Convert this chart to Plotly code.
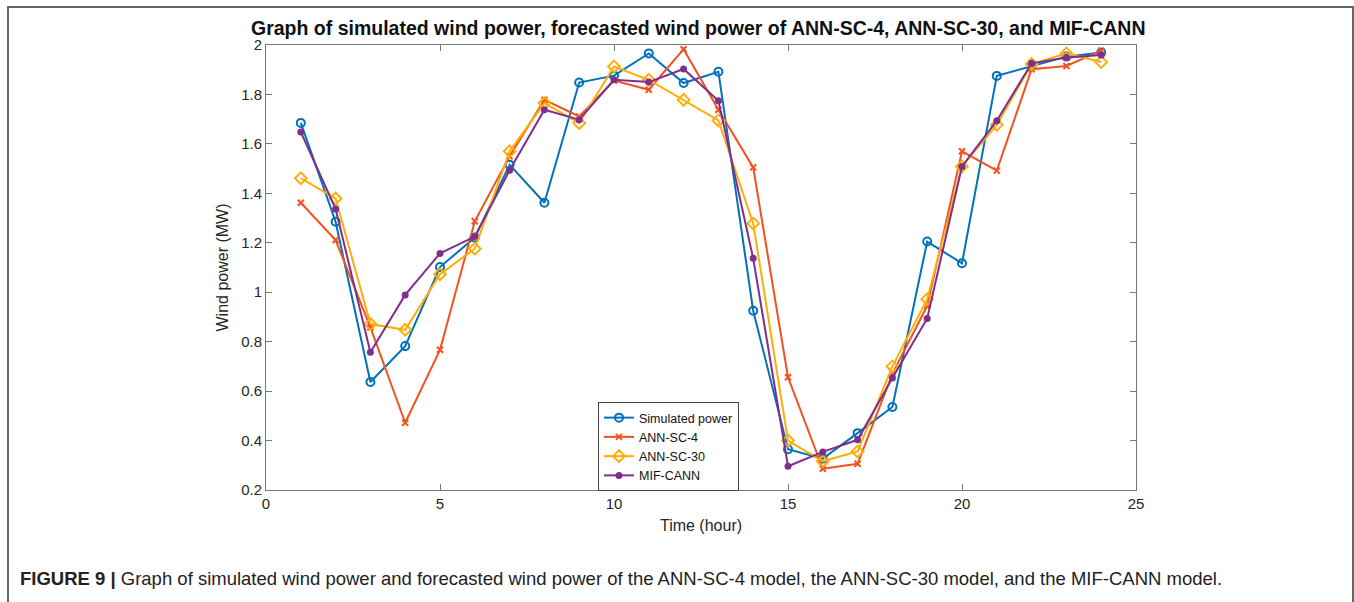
import plotly.graph_objects as go

hours = list(range(1, 25))
simulated = [1.685, 1.285, 0.637, 0.782, 1.102, 1.221, 1.516, 1.362, 1.848, 1.876, 1.966, 1.846,
             1.892, 0.925, 0.365, 0.327, 0.430, 0.536, 1.205, 1.117, 1.875, 1.915, 1.953, 1.970]
ann_sc_4 = [1.362, 1.211, 0.858, 0.472, 0.767, 1.287, 1.550, 1.778, 1.711, 1.856, 1.819, 1.983,
            1.738, 1.505, 0.656, 0.286, 0.306, 0.670, 0.945, 1.570, 1.492, 1.902, 1.915, 1.977]
ann_sc_30 = [1.461, 1.379, 0.871, 0.848, 1.073, 1.176, 1.570, 1.765, 1.684, 1.913, 1.859, 1.778,
             1.695, 1.278, 0.400, 0.316, 0.356, 0.700, 0.972, 1.509, 1.677, 1.923, 1.966, 1.931]
mif_cann = [1.648, 1.337, 0.757, 0.989, 1.157, 1.225, 1.493, 1.738, 1.698, 1.859, 1.850, 1.903,
            1.774, 1.137, 0.296, 0.354, 0.403, 0.653, 0.894, 1.509, 1.694, 1.926, 1.949, 1.960]

series_names = ["Simulated power", "ANN-SC-4", "ANN-SC-30", "MIF-CANN"]
x_ticks = [0, 5, 10, 15, 20, 25]
y_ticks = [0.2, 0.4, 0.6, 0.8, 1.0, 1.2, 1.4, 1.6, 1.8, 2.0]
y_tick_text = ["0.2", "0.4", "0.6", "0.8", "1", "1.2", "1.4", "1.6", "1.8", "2"]

colors = ["#0072BD", "#F4511E", "#FFAD0A", "#7E2F8E"]
markers = [
    dict(symbol="circle-open", size=8, line=dict(width=2)),
    dict(symbol="x-thin-open", size=6, line=dict(width=2)),
    dict(symbol="diamond-open", size=9, line=dict(width=2)),
    dict(symbol="circle", size=7),
]

fig = go.Figure()
for name, ys, c, m in zip(series_names, [simulated, ann_sc_4, ann_sc_30, mif_cann], colors, markers):
    mk = dict(m)
    mk["color"] = c
    if "line" in mk:
        mk["line"] = dict(mk["line"], color=c)
    fig.add_trace(go.Scatter(x=hours, y=ys, name=name, mode="lines+markers",
                             line=dict(color=c, width=2), marker=mk))

L, R, T, B = 266, 218, 45, 112
W, H = 1354, 602
pw, ph = W - L - R, H - T - B

def px2paper_x(px):
    return (px - L) / pw

def px2paper_y(py):
    return (H - B - py) / ph

axis_common = dict(showline=True, linecolor="#777", linewidth=1, mirror="ticks",
                   ticks="inside", ticklen=6, tickcolor="#777", showgrid=False, zeroline=False,
                   tickfont=dict(family="Liberation Sans, Arial", size=15, color="#262626"))

fig.update_layout(
    width=W, height=H,
    margin=dict(l=L, r=R, t=T, b=B),
    paper_bgcolor="white", plot_bgcolor="white",
    font=dict(family="Liberation Sans, Arial", color="#262626"),
    xaxis=dict(range=[0, 25], tickvals=x_ticks,
               title=dict(text="Time (hour)", font=dict(size=16, color="#262626"), standoff=8),
               **axis_common),
    yaxis=dict(range=[0.2, 2], tickvals=y_ticks, ticktext=y_tick_text,
               title=dict(text="Wind power (MW)", font=dict(size=16, color="#262626"), standoff=8),
               **axis_common),
    legend=dict(x=px2paper_x(598), y=px2paper_y(402), xanchor="left", yanchor="top",
                bgcolor="white", bordercolor="#444", borderwidth=1,
                font=dict(family="Liberation Sans, Arial", size=12.5, color="#111"),
                itemwidth=30, tracegroupgap=0),
    showlegend=True,
)

fig.add_annotation(text="<b>Graph of simulated wind power, forecasted wind power of ANN-SC-4, ANN-SC-30, and MIF-CANN</b>",
                   xref="paper", yref="paper", x=px2paper_x(698), y=px2paper_y(28),
                   xanchor="center", yanchor="middle", showarrow=False,
                   font=dict(family="Liberation Sans, Arial", size=19.5, color="#111"))

fig.add_annotation(text="<b>FIGURE 9 |</b> Graph of simulated wind power and forecasted wind power of the ANN-SC-4 model, the ANN-SC-30 model, and the MIF-CANN model.",
                   xref="paper", yref="paper", x=px2paper_x(18), y=px2paper_y(578),
                   xanchor="left", yanchor="middle", showarrow=False,
                   font=dict(family="Liberation Sans, Arial", size=18.5, color="#222"))

fig.add_shape(type="rect", xref="paper", yref="paper",
              x0=px2paper_x(8), x1=px2paper_x(1353), y0=px2paper_y(640), y1=px2paper_y(7),
              line=dict(color="#666", width=2), fillcolor="rgba(0,0,0,0)", layer="below")

fig.write_html("out.html", config={"displayModeBar": False},
               post_script="document.body.style.margin='0';document.body.style.overflow='hidden';")
